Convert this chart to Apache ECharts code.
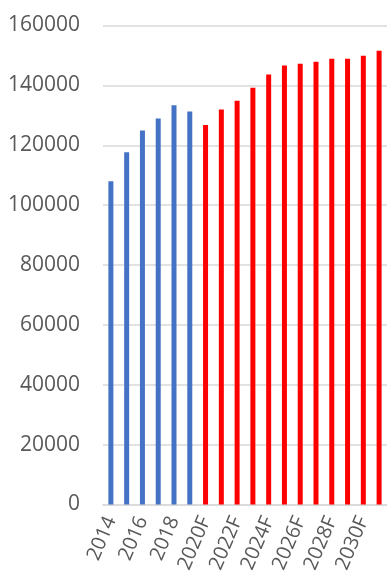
<!DOCTYPE html>
<html>
<head>
<meta charset="utf-8">
<script src="https://cdn.jsdelivr.net/npm/echarts@6/dist/echarts.min.js"></script>
<style>
  html, body { margin: 0; padding: 0; background: #ffffff; }
  #chart { width: 387px; height: 580px; }
</style>
</head>
<body>
<div id="chart"></div>
<script>
// Historical years (blue) followed by forecast years (red)
const actualYears = ['2014', '2015', '2016', '2017', '2018', '2019'];
const actualValues = [108000, 117700, 124900, 128900, 133400, 131300];
const forecastYears = ['2020F', '2021F', '2022F', '2023F', '2024F', '2025F',
                       '2026F', '2027F', '2028F', '2029F', '2030F', '2031F'];
const forecastValues = [126800, 131900, 134900, 139200, 143600, 146600,
                        147200, 147900, 148900, 148900, 149900, 151600];
const yTicks = [0, 20000, 40000, 60000, 80000, 100000, 120000, 140000, 160000];

const categories = actualYears.concat(forecastYears);
const barData = actualValues.map(v => ({ value: v, itemStyle: { color: '#4472C4' } }))
  .concat(forecastValues.map(v => ({ value: v, itemStyle: { color: '#FF0000' } })));

const textColor = '#595959';
const fontFamily = '"Open Sans", "Liberation Sans", sans-serif';

const chart = echarts.init(document.getElementById('chart'), null, { renderer: 'canvas' });
chart.setOption({
  animation: false,
  backgroundColor: '#ffffff',
  grid: { left: 103, top: 25.5, width: 286, height: 479, containLabel: false },
  xAxis: {
    type: 'category',
    data: categories,
    axisLine: { show: true, lineStyle: { color: '#d9d9d9', width: 1.5 } },
    axisTick: { show: false },
    axisLabel: {
      interval: 1,
      rotate: 67,
      margin: 13,
      color: textColor,
      fontSize: 20,
      fontFamily: fontFamily
    }
  },
  yAxis: {
    type: 'value',
    min: yTicks[0],
    max: yTicks[yTicks.length - 1],
    interval: yTicks[1] - yTicks[0],
    axisLine: { show: false },
    axisTick: { show: false },
    splitLine: { lineStyle: { color: '#d9d9d9', width: 1.5 } },
    axisLabel: {
      margin: 23,
      color: textColor,
      fontSize: 21,
      fontFamily: fontFamily,
      formatter: v => String(v)
    }
  },
  series: [{
    type: 'bar',
    data: barData,
    barWidth: 5
  }]
});
</script>
</body>
</html>
